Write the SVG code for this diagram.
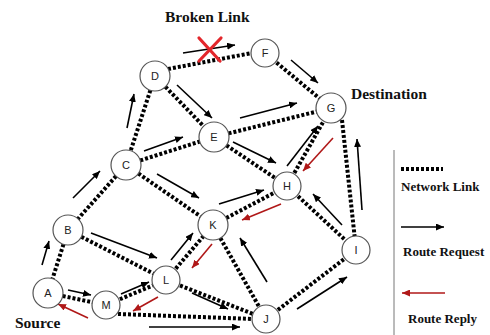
<svg xmlns="http://www.w3.org/2000/svg" width="490" height="335" viewBox="0 0 490 335">
  <defs>
    <marker id="req" markerWidth="8" markerHeight="7" refX="8" refY="3.5" orient="auto" markerUnits="userSpaceOnUse">
      <path d="M0,0 L8,3.5 L0,7 z" fill="#000"/>
    </marker>
    <marker id="rep" markerWidth="8" markerHeight="7" refX="8" refY="3.5" orient="auto" markerUnits="userSpaceOnUse">
      <path d="M0,0 L8,3.5 L0,7 z" fill="#b01818"/>
    </marker>
  </defs>
  <style>
    .link { stroke: #000; stroke-width: 4; stroke-dasharray: 3 2; fill: none; }
    .req { stroke: #000; stroke-width: 1.6; marker-end: url(#req); }
    .rep { stroke: #b01818; stroke-width: 1.6; marker-end: url(#rep); }
    .node circle { fill: #fff; stroke: #555; stroke-width: 1.2; }
    .node text { font-family: "Liberation Sans", Arial, sans-serif; font-size: 11px; fill: #222; text-anchor: middle; }
    .title { font-family: "Liberation Serif", "Times New Roman", serif; font-weight: bold; font-size: 15.5px; fill: #111; }
    .legend { font-family: "Liberation Serif", "Times New Roman", serif; font-weight: bold; font-size: 13px; fill: #111; }
  </style>
  <rect width="490" height="335" fill="#fff"/>

  <!-- network links -->
  <g id="links">
    <line class="link" x1="168" y1="69" x2="252" y2="53"/>
    <line class="link" x1="265" y1="53" x2="331" y2="108"/>
    <line class="link" x1="155" y1="76" x2="126" y2="165"/>
    <line class="link" x1="155" y1="76" x2="214" y2="137"/>
    <line class="link" x1="126" y1="165" x2="214" y2="137"/>
    <line class="link" x1="214" y1="137" x2="331" y2="108"/>
    <line class="link" x1="214" y1="137" x2="287" y2="186"/>
    <line class="link" x1="287" y1="186" x2="331" y2="108"/>
    <line class="link" x1="342" y1="120" x2="355" y2="240"/>
    <line class="link" x1="126" y1="165" x2="68" y2="230"/>
    <line class="link" x1="126" y1="165" x2="213" y2="225"/>
    <line class="link" x1="68" y1="230" x2="48" y2="293"/>
    <line class="link" x1="68" y1="230" x2="166" y2="280"/>
    <line class="link" x1="48" y1="293" x2="106" y2="305"/>
    <line class="link" x1="106" y1="305" x2="166" y2="280"/>
    <line class="link" x1="118" y1="314" x2="254" y2="319"/>
    <line class="link" x1="166" y1="280" x2="213" y2="225"/>
    <line class="link" x1="166" y1="280" x2="266" y2="319"/>
    <line class="link" x1="213" y1="225" x2="287" y2="186"/>
    <line class="link" x1="213" y1="225" x2="266" y2="319"/>
    <line class="link" x1="287" y1="186" x2="356" y2="250"/>
    <line class="link" x1="266" y1="319" x2="356" y2="250"/>
  </g>

  <!-- route request arrows -->
  <g id="requests">
    <line class="req" x1="183" y1="53" x2="235" y2="45"/>
    <line class="req" x1="291" y1="60" x2="318" y2="83"/>
    <line class="req" x1="240" y1="118" x2="297" y2="103"/>
    <line class="req" x1="177" y1="85" x2="212" y2="118"/>
    <line class="req" x1="127" y1="128" x2="134" y2="94"/>
    <line class="req" x1="144" y1="151" x2="183" y2="137"/>
    <line class="req" x1="233" y1="142" x2="276" y2="163"/>
    <line class="req" x1="287" y1="166" x2="318" y2="126"/>
    <line class="req" x1="362" y1="210" x2="357" y2="139"/>
    <line class="req" x1="342" y1="225" x2="313" y2="194"/>
    <line class="req" x1="297" y1="309" x2="347" y2="277"/>
    <line class="req" x1="267" y1="282" x2="240" y2="238"/>
    <line class="req" x1="219" y1="204" x2="264" y2="190"/>
    <line class="req" x1="157" y1="174" x2="199" y2="198"/>
    <line class="req" x1="171" y1="260" x2="193" y2="233"/>
    <line class="req" x1="73" y1="198" x2="100" y2="171"/>
    <line class="req" x1="42" y1="265" x2="49" y2="241"/>
    <line class="req" x1="91" y1="233" x2="157" y2="258"/>
    <line class="req" x1="68" y1="290" x2="91" y2="295"/>
    <line class="req" x1="121" y1="294" x2="149" y2="282"/>
    <line class="req" x1="192" y1="293" x2="228" y2="309"/>
    <line class="req" x1="149" y1="327" x2="240" y2="327"/>
  </g>

  <!-- route reply arrows -->
  <g id="replies">
    <line class="rep" x1="333" y1="138" x2="303" y2="171"/>
    <line class="rep" x1="281" y1="204" x2="242" y2="220"/>
    <line class="rep" x1="212" y1="244" x2="192" y2="268"/>
    <line class="rep" x1="158" y1="297" x2="133" y2="311"/>
    <line class="rep" x1="88" y1="318" x2="58" y2="304"/>
  </g>

  <!-- broken link mark -->
  <g id="broken" stroke="#e3262b" stroke-width="3.2" stroke-linecap="round">
    <line x1="199" y1="38" x2="220" y2="61"/>
    <line x1="221" y1="38" x2="199" y2="61"/>
  </g>

  <!-- nodes -->
  <g id="node-A" class="node"><circle cx="48" cy="293" r="15"/><text x="48" y="297">A</text></g>
  <g id="node-B" class="node"><circle cx="68" cy="230" r="15"/><text x="68" y="234">B</text></g>
  <g id="node-C" class="node"><circle cx="126" cy="165" r="15"/><text x="126" y="169">C</text></g>
  <g id="node-D" class="node"><circle cx="155" cy="76" r="15"/><text x="155" y="80">D</text></g>
  <g id="node-E" class="node"><circle cx="214" cy="137" r="15"/><text x="214" y="141">E</text></g>
  <g id="node-F" class="node"><circle cx="265" cy="53" r="14"/><text x="265" y="57">F</text></g>
  <g id="node-G" class="node"><circle cx="331" cy="108" r="15"/><text x="331" y="112">G</text></g>
  <g id="node-H" class="node"><circle cx="287" cy="186" r="14"/><text x="287" y="190">H</text></g>
  <g id="node-I" class="node"><circle cx="356" cy="250" r="14"/><text x="356" y="254">I</text></g>
  <g id="node-J" class="node"><circle cx="266" cy="319" r="14"/><text x="266" y="323">J</text></g>
  <g id="node-K" class="node"><circle cx="213" cy="225" r="15"/><text x="213" y="229">K</text></g>
  <g id="node-L" class="node"><circle cx="166" cy="280" r="14"/><text x="166" y="284">L</text></g>
  <g id="node-M" class="node"><circle cx="106" cy="305" r="14"/><text x="106" y="309">M</text></g>

  <!-- labels -->
  <text class="title" x="165" y="22">Broken Link</text>
  <text class="title" x="351" y="99">Destination</text>
  <text class="title" x="15" y="328">Source</text>

  <!-- legend -->
  <g id="legend">
    <line x1="394" y1="150" x2="394" y2="335" stroke="#777" stroke-width="1"/>
    <line class="link" x1="401" y1="169" x2="443" y2="169"/>
    <text class="legend" x="401" y="191">Network Link</text>
    <line class="req" x1="401" y1="227" x2="444" y2="227"/>
    <text class="legend" x="403" y="256">Route Request</text>
    <line class="rep" x1="445" y1="293" x2="402" y2="293"/>
    <text class="legend" x="408" y="323">Route Reply</text>
  </g>
</svg>
